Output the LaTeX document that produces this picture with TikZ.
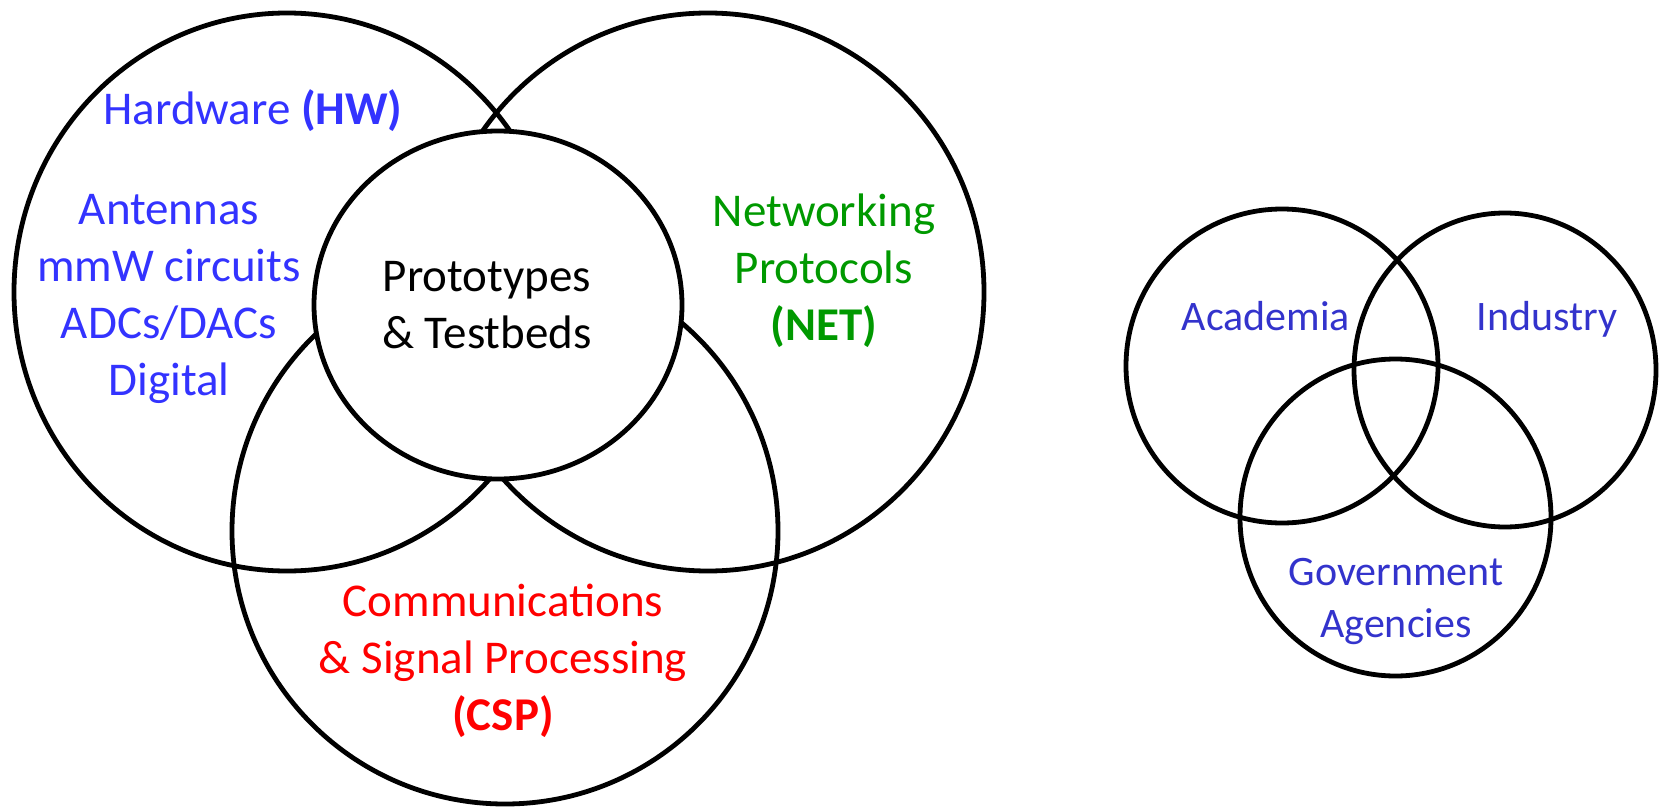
\documentclass[tikz,border=0pt]{standalone}
\usepackage{fontspec}
\setmainfont{Carlito}
\usepackage{tikz}
\definecolor{hwblue}{RGB}{51,51,255}
\definecolor{netgreen}{RGB}{0,153,0}
\definecolor{cspred}{RGB}{255,0,0}
\definecolor{orgblue}{RGB}{51,51,204}

\begin{document}
\begin{tikzpicture}[x=.5pt,y=-.5pt,
  ring/.style={line width=2.4pt,draw=black},
  areatext/.style={font=\fontsize{23.5}{28.5}\selectfont,align=center,inner sep=0pt,anchor=base},
  orgtext/.style={font=\fontsize{21}{26}\selectfont,align=center,inner sep=0pt,anchor=base,text=orgblue}]
\useasboundingbox (0,0) rectangle (1659,808);
% research areas
\coordinate (hwc) at (287,292);
\coordinate (netc) at (708,292);
\coordinate (cspc) at (505,531);
\coordinate (protoc) at (498,305);
\draw[ring] (hwc) ellipse [x radius=273,y radius=279];
\draw[ring] (netc) ellipse [x radius=276,y radius=279];
\draw[ring] (cspc) ellipse [x radius=273,y radius=273];
\draw[ring,fill=white] (protoc) ellipse [x radius=184,y radius=174];
% base anchor = last line
\node[areatext,text=hwblue] (hw) at (253,125){Hardware \textbf{(HW)}};
\node[areatext,text=hwblue] (hwlist) at (169,395){Antennas\\mmW circuits\\ADCs/DACs\\Digital};
\node[areatext] (proto) at (487,348){Prototypes\\\& Testbeds};
\node[areatext,text=netgreen] (net) at (824,340){Networking\\Protocols\\\textbf{(NET)}};
\node[areatext,text=cspred] (csp) at (503,730){Communications\\\& Signal Processing\\\textbf{(CSP)}};
% partners
\coordinate (acadc) at (1282,366);
\coordinate (indc) at (1505,370);
\coordinate (govc) at (1395.5,517.5);
\draw[ring] (acadc) ellipse [x radius=156,y radius=157];
\draw[ring] (indc) ellipse [x radius=151,y radius=157];
\draw[ring] (govc) ellipse [x radius=155.5,y radius=158.5];
\node[orgtext] (acad) at (1266,330){Academia};
\node[orgtext] (ind) at (1547,330){Industry};
\node[orgtext] (gov) at (1396,637){Government\\Agencies};
\end{tikzpicture}
\end{document}
